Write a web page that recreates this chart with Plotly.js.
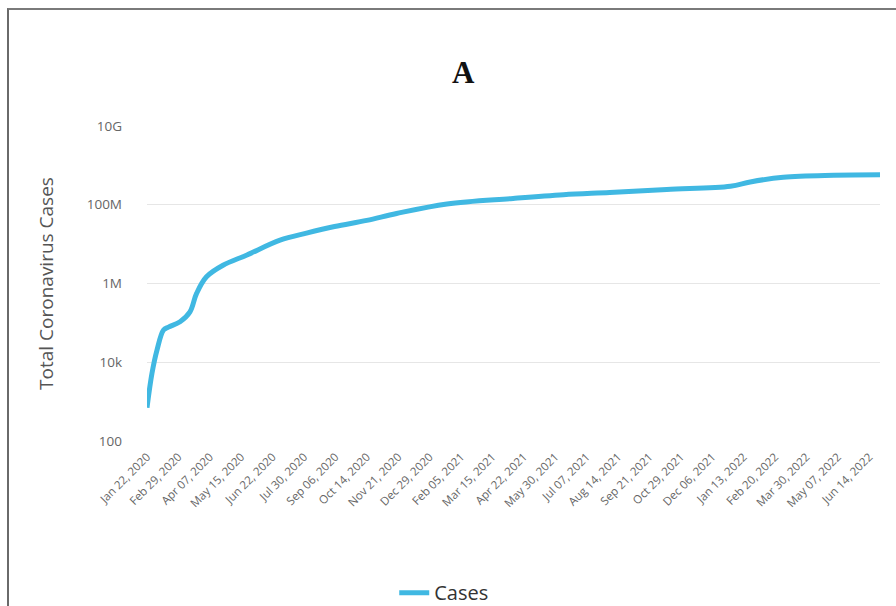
<!DOCTYPE html>
<html>
<head>
<meta charset="utf-8">
<script src="https://cdn.plot.ly/plotly-3.0.1.min.js"></script>
<style>
  html, body { margin: 0; padding: 0; background: #ffffff; }
  #wrap { position: relative; width: 896px; height: 606px; overflow: hidden; }
  #chart { position: absolute; left: 0; top: 0; width: 896px; height: 606px; }
  #frame {
    position: absolute; left: 7px; top: 8px; width: 900px; height: 610px;
    border-top: 2px solid #7a7a7a; border-left: 2px solid #6a6a6a;
    pointer-events: none;
  }
</style>
</head>
<body>
<div id="wrap">
  <div id="chart"></div>
  <div id="frame"></div>
</div>
<script>
// Cumulative worldwide coronavirus cases
const dates = [
  '2020-01-22', '2020-01-28', '2020-02-03', '2020-02-11', '2020-02-17',
  '2020-03-02', '2020-03-14', '2020-03-22', '2020-04-03', '2020-04-23',
  '2020-05-22', '2020-07-01', '2020-08-02', '2020-09-05', '2020-10-14',
  '2020-11-19', '2021-01-19', '2021-04-09', '2021-06-09', '2021-08-04',
  '2021-10-12', '2021-12-28', '2022-01-21', '2022-03-02', '2022-05-02',
  '2022-06-27'
];
const cases = [
  700, 5200, 20000, 66000, 78000,
  107000, 190000, 560000, 1480000, 2900000,
  5300000, 12600000, 19000000, 28000000, 40000000,
  60000000, 105000000, 145000000, 180000000, 205000000,
  245000000, 295000000, 380000000, 500000000, 560000000,
  575000000
];

// y-axis ticks every two decades
const yTickVals = [100, 10000, 1000000, 100000000, 10000000000];
const yTickText = ['100', '10k', '1M', '100M', '10G'];

const seriesName = 'Cases';
const chartTitle = 'A';
const yTitle = 'Total Coronavirus Cases';

const trace = {
  x: dates,
  y: cases,
  type: 'scatter',
  mode: 'lines',
  name: seriesName,
  line: { color: '#40b8e2', width: 5, shape: 'spline', smoothing: 1 },
  hoverinfo: 'x+y'
};

const layout = {
  width: 896,
  height: 606,
  paper_bgcolor: '#ffffff',
  plot_bgcolor: '#ffffff',
  margin: { l: 147, r: 16, t: 126, b: 165, autoexpand: false },
  font: { family: 'Open Sans, sans-serif', color: '#666666' },
  title: {
    text: '<b>' + chartTitle + '</b>',
    font: { family: 'Liberation Serif, serif', size: 31, color: '#111111' },
    xref: 'container', x: 0.517, xanchor: 'center',
    yref: 'container', y: 0.881, yanchor: 'middle'
  },
  xaxis: {
    type: 'date',
    range: [dates[0], dates[dates.length - 1]],
    tick0: '2020-01-22',
    dtick: 38 * 86400000,
    tickformat: '%b %d, %Y',
    tickangle: -45,
    tickfont: { size: 11.5, color: '#666666' },
    ticklabelstandoff: 6,
    showgrid: false,
    zeroline: false,
    showline: false,
    ticks: '',
    automargin: false
  },
  yaxis: {
    type: 'log',
    range: [2, 10],
    tickvals: yTickVals,
    ticktext: yTickText,
    tickfont: { size: 13.5, color: '#666666' },
    ticks: '',
    ticklabelstandoff: 24,
    gridcolor: '#e6e6e6',
    gridwidth: 1,
    zeroline: false,
    showline: false,
    automargin: false,
    title: {
      text: yTitle,
      font: { size: 19, color: '#555555' },
      standoff: 28
    }
  },
  showlegend: true,
  legend: {
    orientation: 'h',
    xref: 'container', x: 0.44, xanchor: 'left',
    yref: 'container', y: 0.022, yanchor: 'middle',
    font: { size: 20, color: '#333333' }
  }
};

Plotly.newPlot('chart', [trace], layout, { displayModeBar: false, staticPlot: true });
</script>
</body>
</html>
